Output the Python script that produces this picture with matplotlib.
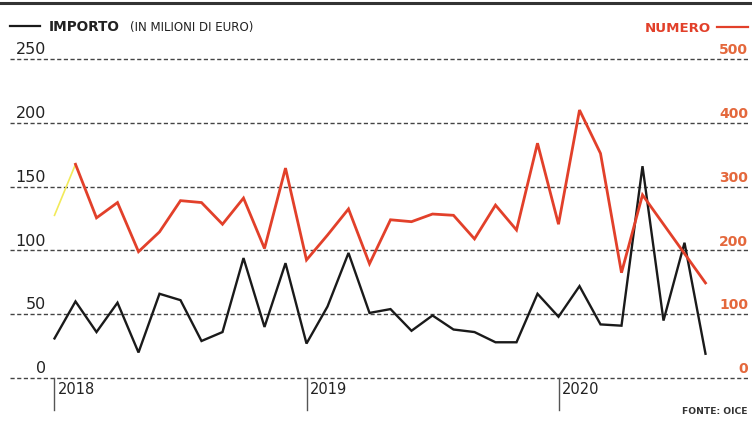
import numpy as np
import matplotlib
matplotlib.use("Agg")
import matplotlib.pyplot as plt
from matplotlib.lines import Line2D
import matplotlib.transforms as mtransforms

plt.rcParams["font.family"] = ["DejaVu Sans"]

# monthly data, Jan 2018 .. Aug 2020
months = np.arange(32)
importo = [31, 60, 36, 59, 20, 66, 61, 29, 36, 94, 40, 90,
           27, 56, 98, 51, 54, 37, 49, 38, 36, 28, 28, 66,
           48, 72, 42, 41, 166, 45, 106, 19]
numero = [255, 335, 251, 275, 198, 229, 278, 275, 241, 282, 203, 329,
          185, 224, 265, 179, 248, 245, 257, 255, 218, 271, 232, 368,
          241, 420, 352, 165, 287, 241, 195, 149]
left_ticks = [0, 50, 100, 150, 200, 250]
right_ticks = [0, 100, 200, 300, 400, 500]
years = ["2018", "2019", "2020"]
year_pos = [0, 12, 24]

W, H = 752, 423
BLACK = "#1a1a1a"
RED = "#e2402a"
ORANGE = "#e4683c"

fig = plt.figure(figsize=(W / 100, H / 100), dpi=100)
x0, x1, y0, y1 = 10, 748, 378, 59
ax = fig.add_axes([x0 / W, 1 - y0 / H, (x1 - x0) / W, (y0 - y1) / H])
ax.set_ylim(0, 250)
ax.set_xlim((x0 - 54.5) / 21, (x1 - 54.5) / 21)
ax.axis("off")
ax2 = ax.twinx()
ax2.set_ylim(0, 500)
ax2.axis("off")

for v in left_ticks:
    ax.axhline(v, color="#444444", lw=1.0, ls=(0, (3.0, 1.8)), zorder=1,
               clip_on=False)

ax.plot(months, importo, color=BLACK, lw=1.7, zorder=3, solid_joinstyle="miter")
ax2.plot(months[:2], numero[:2], color="#f2ea5a", lw=1.2, zorder=2)
ax2.plot(months[1:], numero[1:], color=RED, lw=2.0, zorder=2, solid_joinstyle="miter")

# tick labels above gridlines
tl = mtransforms.blended_transform_factory(ax.transAxes, ax.transData)
for v in left_ticks:
    ax.annotate(str(v), (36 / 738, v), xycoords=tl, xytext=(0, 3.5),
                textcoords="offset points", ha="right", va="baseline",
                fontsize=11.5, color="#222222")
tr = mtransforms.blended_transform_factory(ax2.transAxes, ax2.transData)
for v in right_ticks:
    ax2.annotate(str(v), (1.0, v), xycoords=tr, xytext=(0, 3.5),
                 textcoords="offset points", ha="right", va="baseline",
                 fontsize=10, color=ORANGE, fontweight="bold")

# year markers
tx = mtransforms.blended_transform_factory(ax.transData, ax.transAxes)
for yr, p in zip(years, year_pos):
    ax.add_line(Line2D([p, p], [0, -32 / 319], transform=tx, color="#555555",
                       lw=1.0, clip_on=False))
    ax.text(p + 0.15, -16 / 319, yr, transform=tx, ha="left", va="baseline",
            fontsize=10.5, color="#222222")

# legend / header
def fx(px):
    return px / W

def fy(py):
    return 1 - py / H

fig.add_artist(Line2D([fx(10), fx(40)], [fy(26), fy(26)], color=BLACK, lw=1.6))
fig.text(fx(49), fy(31), "IMPORTO", fontsize=9.8, fontweight="bold",
         color="#222222", va="baseline")
fig.text(fx(130), fy(31), "(IN MILIONI DI EURO)", fontsize=8.6,
         color="#222222", va="baseline")
fig.text(fx(711), fy(32), "NUMERO", fontsize=9.6, fontweight="bold",
         color=RED, ha="right", va="baseline")
fig.add_artist(Line2D([fx(717), fx(748)], [fy(27), fy(27)], color=RED, lw=1.6))
fig.text(fx(748), fy(414), "FONTE: OICE", fontsize=6.6, fontweight="bold",
         color="#333333", ha="right", va="baseline")

# top rule
fig.add_artist(Line2D([0, 1], [fy(3), fy(3)], color="#333333", lw=2.2))

fig.savefig("out.png", dpi=100, facecolor="white")
